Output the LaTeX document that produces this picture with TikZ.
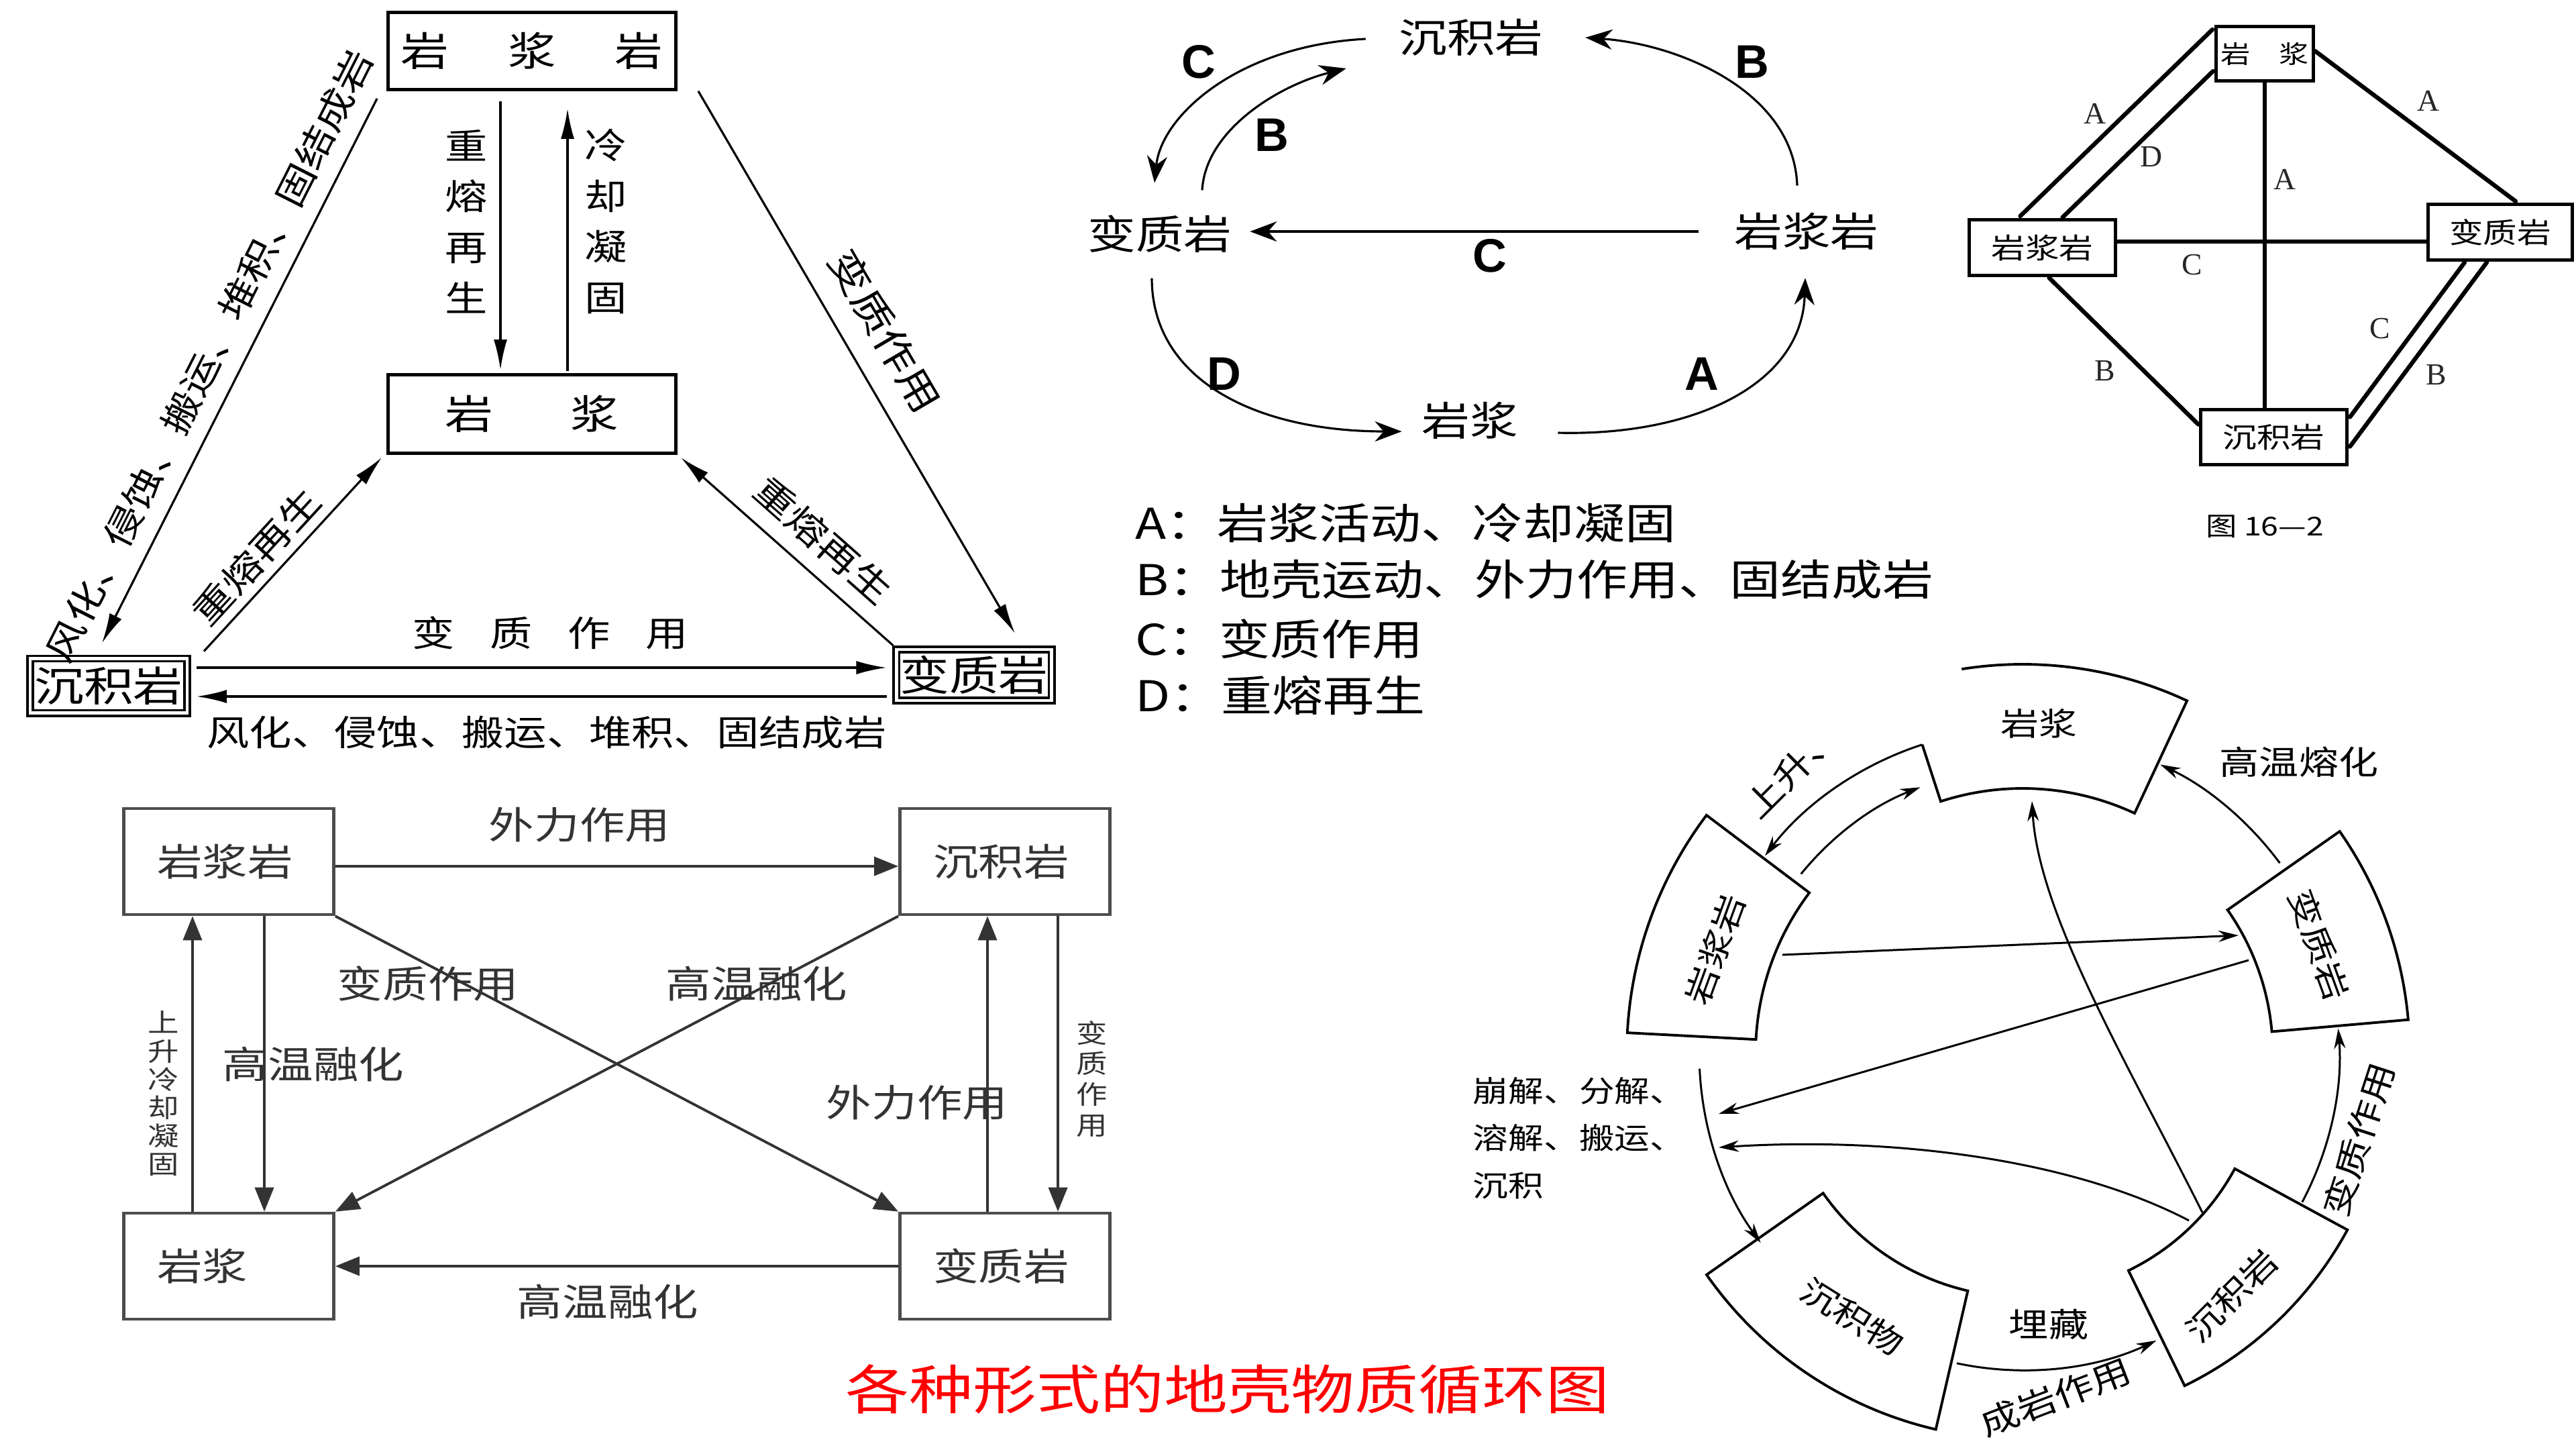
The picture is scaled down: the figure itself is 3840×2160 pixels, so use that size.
\documentclass[tikz,border=0pt]{standalone}
\usepackage{fontspec}
\setmainfont{Noto Sans CJK SC}[FakeStretch=1.2]
\newfontfamily\latb{Liberation Sans}
\newfontfamily\latr{Liberation Serif}
\usetikzlibrary{arrows.meta,calc}
\newcommand\fs[2]{\fontsize{#1}{#2}\selectfont}

\tikzset{
  rockbox/.style={draw, line width=1.3pt, inner sep=0pt},
  dblbox/.style={draw, double, line width=1.1pt, double distance=1.2pt, inner sep=0pt},
  flowA/.style={line width=0.9pt, -{Latex[length=0.45cm,width=0.2cm]}},
  flowB/.style={line width=0.9pt, -{Stealth[length=0.4cm,width=0.3cm]}},
  flowD/.style={line width=1.1pt, draw=black!80, -{Triangle[length=0.36cm,width=0.28cm]}},
  flowE/.style={line width=0.85pt, -{Stealth[length=0.3cm,width=0.17cm]}},
  thickbox/.style={draw, line width=1.4pt, inner sep=0pt, font=\fs{12}{14}},
  thickline/.style={line width=1.8pt, line cap=round},
  graybox/.style={draw=black!70, line width=1.3pt, inner xsep=0.5cm, inner ysep=0pt,
    text width=2.13cm, minimum height=1.58cm, align=left, text=black!80, font=\fs{16}{19}},
  graylabel/.style={text=black!80, font=\fs{16}{19}},
  letter/.style={font=\latb\bfseries\fs{20}{24}},
  thinletter/.style={font=\latr\fs{13}{15}, text=black!85},
}

\begin{document}
\begin{tikzpicture}[x=0.01cm, y=-0.01cm, every node/.style={inner sep=0pt}]
  \fill[white] (0,0) rectangle (3840,2160);
  \useasboundingbox (0,0) rectangle (3840,2160);

  % ---- top left: triangle cycle
  \node[rockbox, minimum width=4.29cm, minimum height=1.15cm, font=\fs{17}{20}] (aIg) at (793,76) {岩\hspace{25pt}浆\hspace{25pt}岩};
  \node[rockbox, minimum width=4.29cm, minimum height=1.17cm, font=\fs{17}{20}] (aMg) at (793,617) {岩\hspace{33pt}浆};
  \node[dblbox, minimum width=2.34cm, minimum height=0.81cm, font=\fs{17.5}{21}] (aSd) at (162,1022) {沉积岩};
  \node[dblbox, minimum width=2.31cm, minimum height=0.76cm, font=\fs{17.5}{21}] (aMt) at (1452,1006) {变质岩};

  \draw[flowA] ($(aIg.south)+(-47,15)$) -- ($(aMg.north)+(-47,-5)$);
  \draw[flowA] ($(aMg.north)+(53,-3)$) -- ($(aIg.south)+(53,26)$);
  \node[font=\fs{15}{21.5}, align=center] (aRe) at (695,330) {重\\熔\\再\\生};
  \node[font=\fs{15}{21.5}, align=center] (aCo) at (903,330) {冷\\却\\凝\\固};

  \draw[flowA] ($(aIg.south west)+(-14,11)$) -- node[sloped, above=0.24cm, font=\fs{15}{18}] (aWe) {风化、侵蚀、搬运、堆积、固结成岩} ($(aSd.north)+(-10,-21)$);
  \draw[flowA] ($(aIg.south east)+(31,0)$) -- node[sloped, above=0.32cm, pos=0.48, font=\fs{16}{19}] (aMe) {变质作用} ($(aMt.north)+(61,-22)$);
  \draw[flowA] ($(aSd.north east)+(23,-9)$) -- node[sloped, above=0.12cm, pos=0.4, font=\fs{15}{18}] (aR1) {重熔再生} ($(aMg.south west)+(-7,4)$);
  \draw[flowA] ($(aMt.north west)+(-3,-4)$) -- node[sloped, above=0.22cm, pos=0.43, font=\fs{15}{18}] (aR2) {重熔再生} ($(aMg.south east)+(5,4)$);

  \draw[flowA] ($(aSd.east)+(12,-27)$) -- ($(aMt.west)+(-13,-11)$);
  \draw[flowA] ($(aMt.west)+(-13,32)$) -- ($(aSd.east)+(12,16)$);
  \node[font=\fs{15}{18}] (aMe2) at (820,943) {变\hspace{15pt}质\hspace{15pt}作\hspace{15pt}用};
  \node[font=\fs{15}{18}] (aWe2) at (815,1091) {风化、侵蚀、搬运、堆积、固结成岩};

  % ---- top middle: oval cycle
  \node[font=\fs{17}{20}] (bSd) at (2193,56) {沉积岩};
  \node[font=\fs{17}{20}] (bMt) at (1729,349) {变质岩};
  \node[font=\fs{17}{20}] (bIg) at (2693,345) {岩浆岩};
  \node[font=\fs{17}{20}] (bMg) at (2191,627) {岩浆};

  \draw[flowB] ($(bIg.west)+(-53,0)$) -- ($(bMt.east)+(26,-4)$);
  \draw[flowB] ($(bSd.west)+(-49,2)$) .. controls +(-190,10) and +(10,-100) .. ($(bMt.north)+(-8,-48)$);
  \draw[flowB] ($(bMt.north)+(63,-37)$) .. controls +(5,-90) and +(-100,25) .. ($(bSd.west)+(-78,46)$);
  \draw[flowB] ($(bIg.north)+(-14,-40)$) .. controls +(-5,-140) and +(140,10) .. ($(bSd.east)+(62,0)$);
  \draw[flowB] ($(bMt.south)+(-12,37)$) .. controls +(0,150) and +(-220,0) .. ($(bMg.west)+(-29,16)$);
  \draw[flowB] ($(bMg.east)+(59,18)$) .. controls +(200,5) and +(-5,160) .. ($(bIg.south)+(-2,41)$);

  \node[letter] (bC1) at (2221,381) {C};
  \node[letter] (bC2) at (1787,92) {C};
  \node[letter] (bB1) at (1896,201) {B};
  \node[letter] (bB2) at (2612,92) {B};
  \node[letter] (bD) at (1825,557) {D};
  \node[letter] (bA) at (2537,557) {A};

  \node[anchor=west, font=\fs{18}{22}] (bLa) at (1692,779) {A：岩浆活动、冷却凝固};
  \node[anchor=west, font=\fs{18}{22}] (bLb) at (1692,864) {B：地壳运动、外力作用、固结成岩};
  \node[anchor=west, font=\fs{18}{22}] (bLc) at (1692,952) {C：变质作用};
  \node[anchor=west, font=\fs{18}{22}] (bLd) at (1692,1036) {D：重熔再生};

  % ---- top right: figure 16-2
  \node[thickbox, minimum width=1.45cm, minimum height=0.81cm, font=\fs{10.5}{12}] (cMg) at (3376,80) {岩\hspace{12pt}浆};
  \node[thickbox, minimum width=2.18cm, minimum height=0.83cm] (cIg) at (3044.5,369) {岩浆岩};
  \node[thickbox, minimum width=2.15cm, minimum height=0.83cm] (cMt) at (3727,346) {变质岩};
  \node[thickbox, minimum width=2.18cm, minimum height=0.82cm] (cSd) at (3389.5,651.5) {沉积岩};

  \draw[thickline] ($(cMg.north west)+(-3,7)$) -- ($(cIg.north)+(-33,-3)$);
  \draw[thickline] ($(cMg.south west)+(-2,-17)$) -- ($(cIg.north)+(30,-1)$);
  \draw[thickline] ($(cMg.east)+(0,-4)$) -- ($(cMt.north)+(23,-2)$);
  \draw[thickline] (cMg.south) -- (cMg.south |- cSd.north);
  \draw[thickline] ($(cIg.east)+(0,-9)$) -- ($(cMt.west)+(0,14)$);
  \draw[thickline] ($(cIg.south)+(10,1)$) -- ($(cSd.west)+(-1,-19)$);
  \draw[thickline] ($(cMt.south)+(-53,1)$) -- ($(cSd.east)+(2,-30)$);
  \draw[thickline] ($(cMt.south)+(-20,1)$) -- ($(cSd.east)+(2,14)$);

  \node[thinletter] (cA1) at (3123,169) {A};
  \node[thinletter] (cD) at (3207,234) {D};
  \node[thinletter] (cA2) at (3620,150) {A};
  \node[thinletter] (cA3) at (3406,267) {A};
  \node[thinletter] (cC1) at (3268,395) {C};
  \node[thinletter] (cB1) at (3138,553) {B};
  \node[thinletter] (cC2) at (3548,490) {C};
  \node[thinletter] (cB2) at (3632,559) {B};
  \node[font=\fs{11}{13}] (cCap) at (3376,785) {图 16—2};

  % ---- bottom left: square cycle
  \node[graybox] (dIg) at (341,1284) {岩浆岩};
  \node[graybox] (dSd) at (1498,1284) {沉积岩};
  \node[graybox] (dMg) at (341,1887) {岩浆};
  \node[graybox] (dMt) at (1498,1887) {变质岩};

  \draw[flowD] ([yshift=-0.07cm]dIg.east) -- ([yshift=-0.07cm]dSd.west);
  \draw[flowD] ([xshift=0.53cm]dIg.south) -- ([xshift=0.53cm]dMg.north);
  \draw[flowD] ([xshift=-0.54cm]dMg.north) -- ([xshift=-0.54cm]dIg.south);
  \draw[flowD] (dIg.south east) -- (dMt.north west);
  \draw[flowD] (dSd.south west) -- (dMg.north east);
  \draw[flowD] ([xshift=-0.26cm]dMt.north) -- ([xshift=-0.26cm]dSd.south);
  \draw[flowD] ([xshift=0.79cm]dSd.south) -- ([xshift=0.79cm]dMt.north);
  \draw[flowD] (dMt.west) -- (dMg.east);

  \node[graylabel] (dL1) at (864,1229) {外力作用};
  \node[graylabel] (dL2) at (467,1586) {高温融化};
  \node[graylabel, font=\fs{11}{12}, align=center] (dL3) at (244,1630) {上\\升\\冷\\却\\凝\\固};
  \node[graylabel] (dL4) at (638,1466) {变质作用};
  \node[graylabel] (dL5) at (1128,1466) {高温融化};
  \node[graylabel] (dL6) at (1367,1643) {外力作用};
  \node[graylabel, font=\fs{11}{13}, align=center] (dL7) at (1628,1608) {变\\质\\作\\用};
  \node[graylabel] (dL8) at (906,1940) {高温融化};

  % ---- bottom right: ring of sectors
  \begin{scope}[shift={(3015,1570)}, y=0.01cm, line width=0.85pt]
    \draw[line width=1.1pt] (99:580) arc[start angle=99, end angle=65, radius=580] -- (65:395)
      arc[start angle=65, end angle=108, radius=395] -- (108:484);
    \draw[line width=1.1pt] (143:398) -- (143:590) arc[start angle=143, end angle=177, radius=590]
      -- (177:398) arc[start angle=177, end angle=143, radius=398] -- cycle;
    \draw[line width=1.1pt] (5:373) -- (5:577) arc[start angle=5, end angle=35, radius=577]
      -- (35:373) arc[start angle=35, end angle=5, radius=373] -- cycle;
    \draw[line width=1.1pt] (-64:360) -- (-64:551) arc[start angle=-64, end angle=-28.5, radius=551]
      -- (-28.5:360) arc[start angle=-28.5, end angle=-64, radius=360] -- cycle;
    \draw[line width=1.1pt] (-145:368) -- (-145:575) arc[start angle=-145, end angle=-103, radius=575]
      -- (-103:363) arc[start angle=-103, end angle=-145, radius=363] -- cycle;

    \node[font=\fs{13.5}{16}] (eMg) at (24,492) {岩浆};
    \node[font=\fs{13.5}{16}, rotate=70] (eIg) at (-458,155) {岩浆岩};
    \node[font=\fs{13.5}{16}, rotate=-70] (eMt) at (442,162) {变质岩};
    \node[font=\fs{13.5}{16}, rotate=45] (eSr) at (312,-361) {沉积岩};
    \node[font=\fs{13.5}{16}, rotate=-32] (eSo) at (-254,-392) {沉积物};

    \draw[flowE] (108:484) arc[start angle=108, end angle=142.5, radius=484];
    \draw[flowE] (141:425) arc[start angle=141, end angle=111, radius=425];
    \draw[flowE] (36.5:477) arc[start angle=36.5, end angle=64.5, radius=477];
    \draw[flowE] (-28:472) arc[start angle=-28, end angle=4.5, radius=472];
    \draw[flowE] (-102:472) arc[start angle=-102, end angle=-65, radius=472];
    \draw[flowE] (182.7:482) arc[start angle=182.7, end angle=216, radius=480];

    \draw[flowE] (-358,147) -- (322,176);
    \draw[flowE] (337,139) -- (-453,-90);
    \draw[flowE] (248,-249) .. controls +(-180,94) and +(250,16) .. (-453,-140);
    \draw[flowE] (268,-237) .. controls +(-110,220) and +(10,-170) .. (14,376);

    \node[font=\fs{14}{16}, rotate=45] (eUp) at (-343,422) {上升、};
    \node[font=\fs{14}{16}] (eMelt) at (412,434) {高温熔化};
    \node[font=\fs{12.5}{20}, align=left] (eWeath) at (-661,-126) {崩解、分解、\\溶解、搬运、\\沉积};
    \node[font=\fs{14}{16}, rotate=72] (eMeta) at (501,-128) {变质作用};
    \node[font=\fs{14}{16}] (eBury) at (39,-404) {埋藏};
    \node[font=\fs{14}{16}, rotate=21] (eLith) at (49,-512) {成岩作用};
  \end{scope}

  % ---- title
  \node[text=red, font=\fs{22.5}{26}] (title) at (1830,2070) {各种形式的地壳物质循环图};
\end{tikzpicture}
\end{document}
